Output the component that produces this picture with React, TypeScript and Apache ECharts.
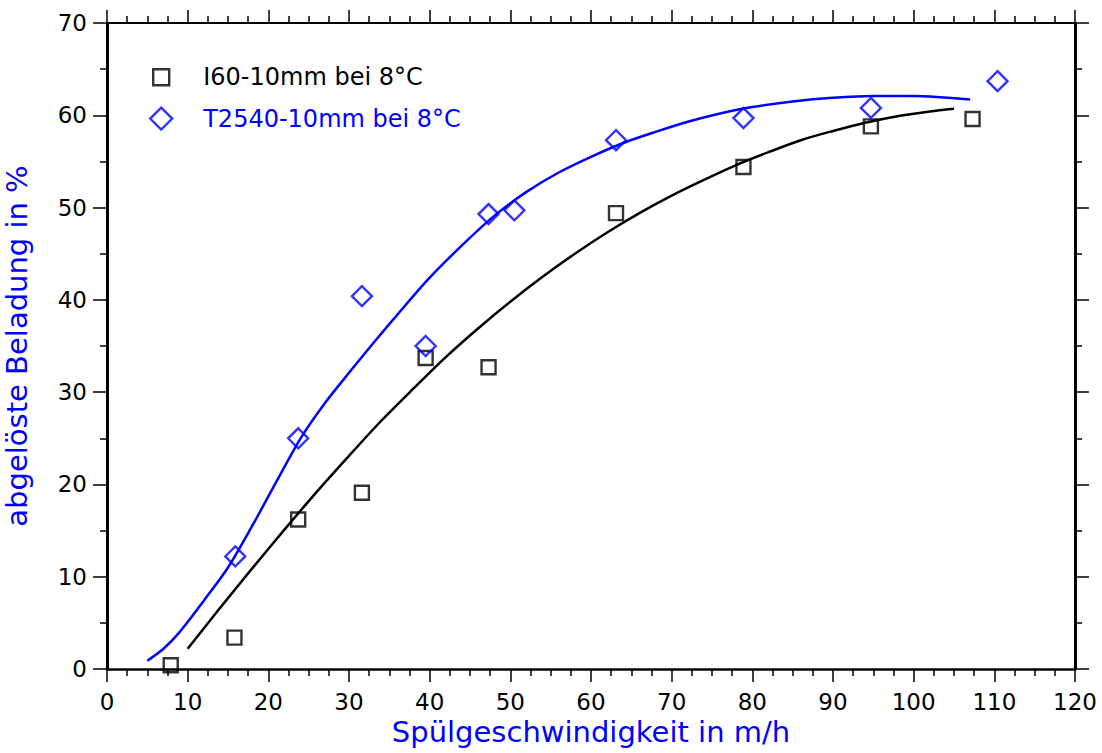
import React, { useEffect, useRef } from "react";
import * as echarts from "echarts";

// ---- data ----
const seriesNames = ["I60-10mm bei 8°C", "T2540-10mm bei 8°C"];
const xAxisTitle = "Spülgeschwindigkeit in m/h";
const yAxisTitle = "abgelöste Beladung in %";

const i60Speed = [7.9, 15.8, 23.7, 31.6, 39.5, 47.3, 63.1, 78.9, 94.7, 107.3];
const i60Load = [0.4, 3.4, 16.2, 19.1, 33.7, 32.7, 49.4, 54.4, 58.8, 59.6];

const t2540Speed = [15.9, 23.7, 31.6, 39.5, 47.3, 50.5, 63.1, 78.9, 94.7, 110.4];
const t2540Load = [12.2, 25.0, 40.4, 35.0, 49.3, 49.7, 57.3, 59.7, 60.8, 63.7];

// fitted curves
const i60FitSpeed = [10, 14, 18, 22, 26, 30, 34, 38, 42, 46, 50, 54, 58, 62, 66, 70, 74, 78, 82, 86, 90, 94, 98, 102, 105];
const i60FitLoad = [2.2, 6.6, 10.9, 15.1, 19.2, 23.1, 26.9, 30.4, 33.8, 36.9, 39.8, 42.5, 45.0, 47.3, 49.4, 51.3, 53.0, 54.6, 56.0, 57.3, 58.3, 59.2, 59.9, 60.4, 60.7];

const t2540FitSpeed = [5, 7, 9, 12, 15, 18, 21, 24, 27, 30, 33, 36, 40, 44, 48, 52, 56, 60, 64, 68, 72, 76, 80, 85, 90, 95, 100, 107];
const t2540FitLoad = [0.9, 2.2, 4.0, 7.4, 11.0, 15.5, 20.3, 25.0, 28.8, 32.1, 35.3, 38.4, 42.4, 45.9, 49.1, 51.7, 53.8, 55.5, 57.0, 58.2, 59.3, 60.2, 60.9, 61.5, 61.9, 62.1, 62.1, 61.7];

const X_MIN = 0, X_MAX = 120, X_INT = 10;
const Y_MIN = 0, Y_MAX = 70, Y_INT = 10;

const BLACK = "#000000";
const BLUE = "#0000ff";
const FONT = "'DejaVu Sans', Arial, sans-serif";

const zip = (xs: number[], ys: number[]) => xs.map((x, i) => [x, ys[i]]);

function axisX(position: "bottom" | "top", labels: boolean) {
  return {
    type: "value",
    position,
    min: X_MIN,
    max: X_MAX,
    interval: X_INT,
    name: labels ? xAxisTitle : "",
    nameLocation: "middle",
    nameGap: 46,
    nameTextStyle: { color: BLUE, fontSize: 29, fontFamily: FONT },
    axisLine: { show: true, onZero: false, lineStyle: { color: BLACK, width: position === "top" ? 2 : 2.5 } },
    axisTick: { show: true, inside: false, length: 13, lineStyle: { color: BLACK, width: 1.5 } },
    minorTick: { show: true, splitNumber: 4, length: 7, lineStyle: { color: BLACK, width: 1.5 } },
    axisLabel: { show: labels, margin: 21, color: BLACK, fontSize: 23, fontFamily: FONT },
    splitLine: { show: false },
    minorSplitLine: { show: false },
  };
}

function axisY(position: "left" | "right", labels: boolean) {
  return {
    type: "value",
    position,
    min: Y_MIN,
    max: Y_MAX,
    interval: Y_INT,
    name: labels ? yAxisTitle : "",
    nameLocation: "middle",
    nameGap: 76,
    nameRotate: 90,
    nameTextStyle: { color: BLUE, fontSize: 29, fontFamily: FONT },
    axisLine: { show: true, onZero: false, lineStyle: { color: BLACK, width: 3 } },
    axisTick: { show: true, inside: false, length: 14, lineStyle: { color: BLACK, width: 1.5 } },
    minorTick: { show: true, splitNumber: 2, length: 7, lineStyle: { color: BLACK, width: 1.5 } },
    axisLabel: { show: labels, margin: 20, color: BLACK, fontSize: 23, fontFamily: FONT },
    splitLine: { show: false },
    minorSplitLine: { show: false },
  };
}

export default function App() {
  const ref = useRef<HTMLDivElement>(null);

  useEffect(() => {
    if (!ref.current) return;
    const chart = echarts.init(ref.current, undefined, { renderer: "svg" });
    chart.setOption({
      animation: false,
      backgroundColor: "#ffffff",
      grid: { left: 107, right: 27, top: 23, bottom: 84, containLabel: false, outerBoundsMode: "none" },
      legend: {
        orient: "vertical",
        left: 144,
        top: 60,
        itemWidth: 22,
        itemHeight: 22,
        itemGap: 17,
        selectedMode: false,
        textStyle: { fontSize: 24, fontFamily: FONT, color: BLACK, padding: [0, 0, 0, 26] },
        data: [
          {
            name: seriesNames[0],
            icon: "path://M0,0M3,3L19,3L19,19L3,19ZM22,22",
            itemStyle: { color: "rgba(0,0,0,0)", borderColor: BLACK, borderWidth: 2.4 },
            textStyle: { color: BLACK },
          },
          {
            name: seriesNames[1],
            icon: "diamond",
            itemStyle: { color: "rgba(0,0,0,0)", borderColor: BLUE, borderWidth: 2.4 },
            textStyle: { color: BLUE },
          },
        ],
      },
      xAxis: [axisX("bottom", true), axisX("top", false)],
      yAxis: [axisY("left", true), axisY("right", false)],
      series: [
        {
          name: "fit " + seriesNames[0],
          type: "line",
          data: zip(i60FitSpeed, i60FitLoad),
          smooth: 0.3,
          symbol: "none",
          silent: true,
          lineStyle: { color: BLACK, width: 2.5 },
          z: 1,
        },
        {
          name: "fit " + seriesNames[1],
          type: "line",
          data: zip(t2540FitSpeed, t2540FitLoad),
          smooth: 0.3,
          symbol: "none",
          silent: true,
          lineStyle: { color: BLUE, width: 2.5 },
          z: 1,
        },
        {
          name: seriesNames[0],
          type: "scatter",
          data: zip(i60Speed, i60Load),
          symbol: "rect",
          symbolSize: 14,
          itemStyle: { color: "rgba(0,0,0,0)", borderColor: BLACK, borderWidth: 2.4 },
          z: 3,
        },
        {
          name: seriesNames[1],
          type: "scatter",
          data: zip(t2540Speed, t2540Load),
          symbol: "diamond",
          symbolSize: 20,
          itemStyle: { color: "rgba(0,0,0,0)", borderColor: BLUE, borderWidth: 2.4 },
          z: 3,
        },
      ],
    });
    return () => chart.dispose();
  }, []);

  return (
    <div
      ref={ref}
      style={{ position: "absolute", left: 0, top: 0, width: 1102, height: 753, background: "#fff" }}
    />
  );
}
